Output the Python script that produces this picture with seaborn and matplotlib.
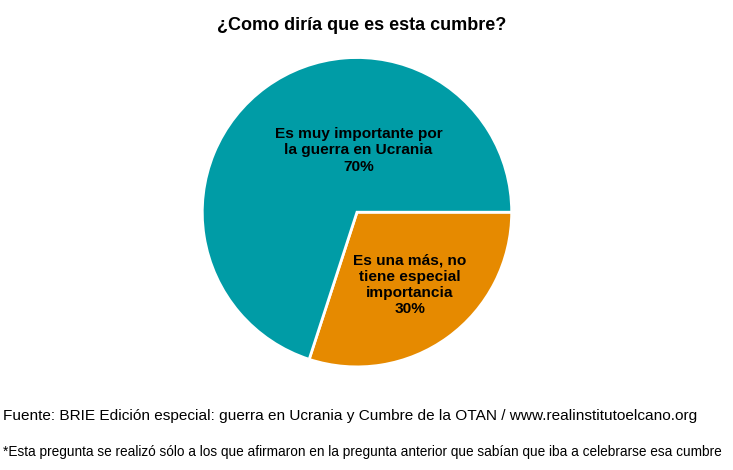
import matplotlib
matplotlib.use("Agg")
import matplotlib.pyplot as plt
import seaborn as sns

# datos
categorias = ["Es muy importante por\nla guerra en Ucrania", "Es una más, no\ntiene especial\nimportancia"]
porcentajes = [70, 30]
colores = ["#009ca6", "#e68a00"]
titulo = "¿Como diría que es esta cumbre?"
fuente = "Fuente: BRIE Edición especial: guerra en Ucrania y Cumbre de la OTAN / www.realinstitutoelcano.org"
nota = "*Esta pregunta se realizó sólo a los que afirmaron en la pregunta anterior que sabían que iba a celebrarse esa cumbre"

sns.set_theme(style="white")
plt.rcParams["font.family"] = ["Liberation Sans", "DejaVu Sans"]
plt.rcParams["text.color"] = "black"

fig = plt.figure(figsize=(7.33, 4.70), dpi=100)
ax = fig.add_axes([0.277, 0.221, 0.420, 0.655])

cuñas, _ = ax.pie(porcentajes[::-1], colors=colores[::-1], startangle=0,
                  counterclock=False,
                  wedgeprops=dict(edgecolor="white", linewidth=2))
ax.set_xlim(-0.995, 0.995)
ax.set_ylim(-0.995, 0.995)
ax.set_aspect("equal")

# etiquetas dentro de las porciones
posiciones = [(0.01, 0.40), (0.34, -0.47)]
for cat, pct, (x, y) in zip(categorias, porcentajes, posiciones):
    ax.text(x, y, f"{cat}\n{pct}%", ha="center", va="center",
            fontsize=11.1, fontweight="bold", color="black", linespacing=1.2)

fig.text(0.494, 0.946, titulo, ha="center", va="center", fontsize=13, fontweight="bold")
fig.text(0.004, 0.115, fuente, ha="left", va="center", fontsize=11.05)
fig.text(0.004, 0.038, nota, ha="left", va="center", fontsize=9.8)

fig.savefig("out.png", dpi=100)
